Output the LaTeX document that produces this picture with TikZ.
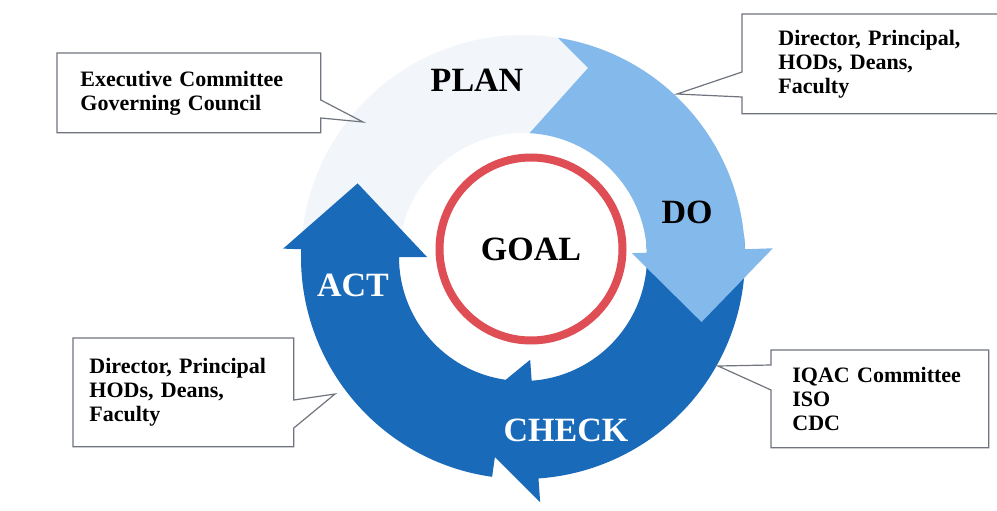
\documentclass[tikz,border=0pt]{standalone}
\usepackage{fontspec}
\setmainfont{Liberation Serif}
\usepackage{tikz}
\definecolor{planblue}{RGB}{242,246,250}
\definecolor{doblue}{RGB}{132,186,235}
\definecolor{darkblue}{RGB}{26,106,186}
\definecolor{ringred}{RGB}{222,78,84}
\definecolor{linegray}{RGB}{112,116,126}
\tikzset{
	stage/.style={font=\fontsize{17}{17}\selectfont\bfseries},
	note/.style={inner sep=0pt, anchor=north west, align=left, font=\fontsize{11}{12}\selectfont\bfseries},
	callout/.style={draw=linegray, line width=0.6pt},
}

\begin{document}
\begin{tikzpicture}[x=0.5pt,y=0.5pt]
		%\draw[help lines] (0,0) grid (997,510);
		\fill[white] (0,0) rectangle (997,510);
		\useasboundingbox (0,0) rectangle (997,510);
		\begin{scope}[shift={(523,253)}]
			% plan
			\fill[planblue] (182:222) arc[start angle=182, end angle=81, radius=222] -- (71:200) -- (87:124) arc[start angle=87, end angle=182, radius=124] -- cycle;
			% act
			\fill[darkblue] (-98:222) arc[start angle=-98, end angle=-182, radius=222] -- (-182:240) -- (-204:181) -- (-180:96) -- (-180:124) arc[start angle=-180, end angle=-98, radius=124] -- cycle;
			% check
			\fill[darkblue] (6:222) arc[start angle=6, end angle=-86, radius=222] -- (-86:246) -- (-112:175) -- (-86:103) -- (-86:124) arc[start angle=-86, end angle=6, radius=124] -- cycle;
			% do
			\fill[doblue] (81:222) arc[start angle=81, end angle=2, radius=222] -- (2:250) -- (-20:190) -- (2:109) -- (2:124) arc[start angle=2, end angle=87, radius=124] -- (71:200) -- cycle;
		\end{scope}
		\node[circle, draw=ringred, line width=4pt, minimum size=91.5pt, stage] (goal) at (531,261) {GOAL};
		\node[stage] (plan) at (477,430) {PLAN};
		\node[stage] (do) at (687,298) {DO};
		\node[stage, white] (act) at (353,225) {ACT};
		\node[stage, white] (check) at (566,80) {CHECK};

		\node[note, minimum width=131.5pt, minimum height=39.5pt, text width=108.5pt] (exec) at (57,457) {Executive Committee\\Governing Council};
		\node[note, minimum width=136pt, minimum height=49.5pt, text width=100pt] (dirtop) at (742,496) {Director, Principal,\\HODs, Deans,\\Faculty};
		\node[note, minimum width=110pt, minimum height=54pt, text width=94pt] (dirbot) at (73,172) {Director, Principal\\HODs, Deans,\\Faculty};
		\node[note, minimum width=108.5pt, minimum height=48.5pt, text width=87.5pt] (iqac) at (771,160) {IQAC Committee\\ISO\\CDC};
		\coordinate (exec-tip) at (363,388);
		\coordinate (dirtop-tip) at (677,416);
		\coordinate (dirbot-tip) at (335,116);
		\coordinate (iqac-tip) at (718,144);

		\draw[callout] (exec.north west) -- (exec.north east) -- (exec.east |- 0,410) -- (exec-tip) -- (exec.east |- 0,392) -- (exec.south east) -- (exec.south west) -- cycle;
		\draw[callout] (997,0 |- dirtop.north) -- (dirtop.north west) -- (dirtop.west |- 0,438) -- (dirtop-tip) -- (dirtop.west |- 0,413) -- (dirtop.south west) -- (997,0 |- dirtop.south);
		\draw[callout] (dirbot.north west) -- (dirbot.north east) -- (dirbot.east |- 0,110) -- (dirbot-tip) -- (dirbot.east |- 0,82) -- (dirbot.south east) -- (dirbot.south west) -- cycle;
		\draw[callout] (iqac.north east) -- (iqac.north west) -- (iqac.west |- 0,145) -- (iqac-tip) -- (iqac.west |- 0,120) -- (iqac.south west) -- (iqac.south east) -- cycle;
\end{tikzpicture}
\end{document}
